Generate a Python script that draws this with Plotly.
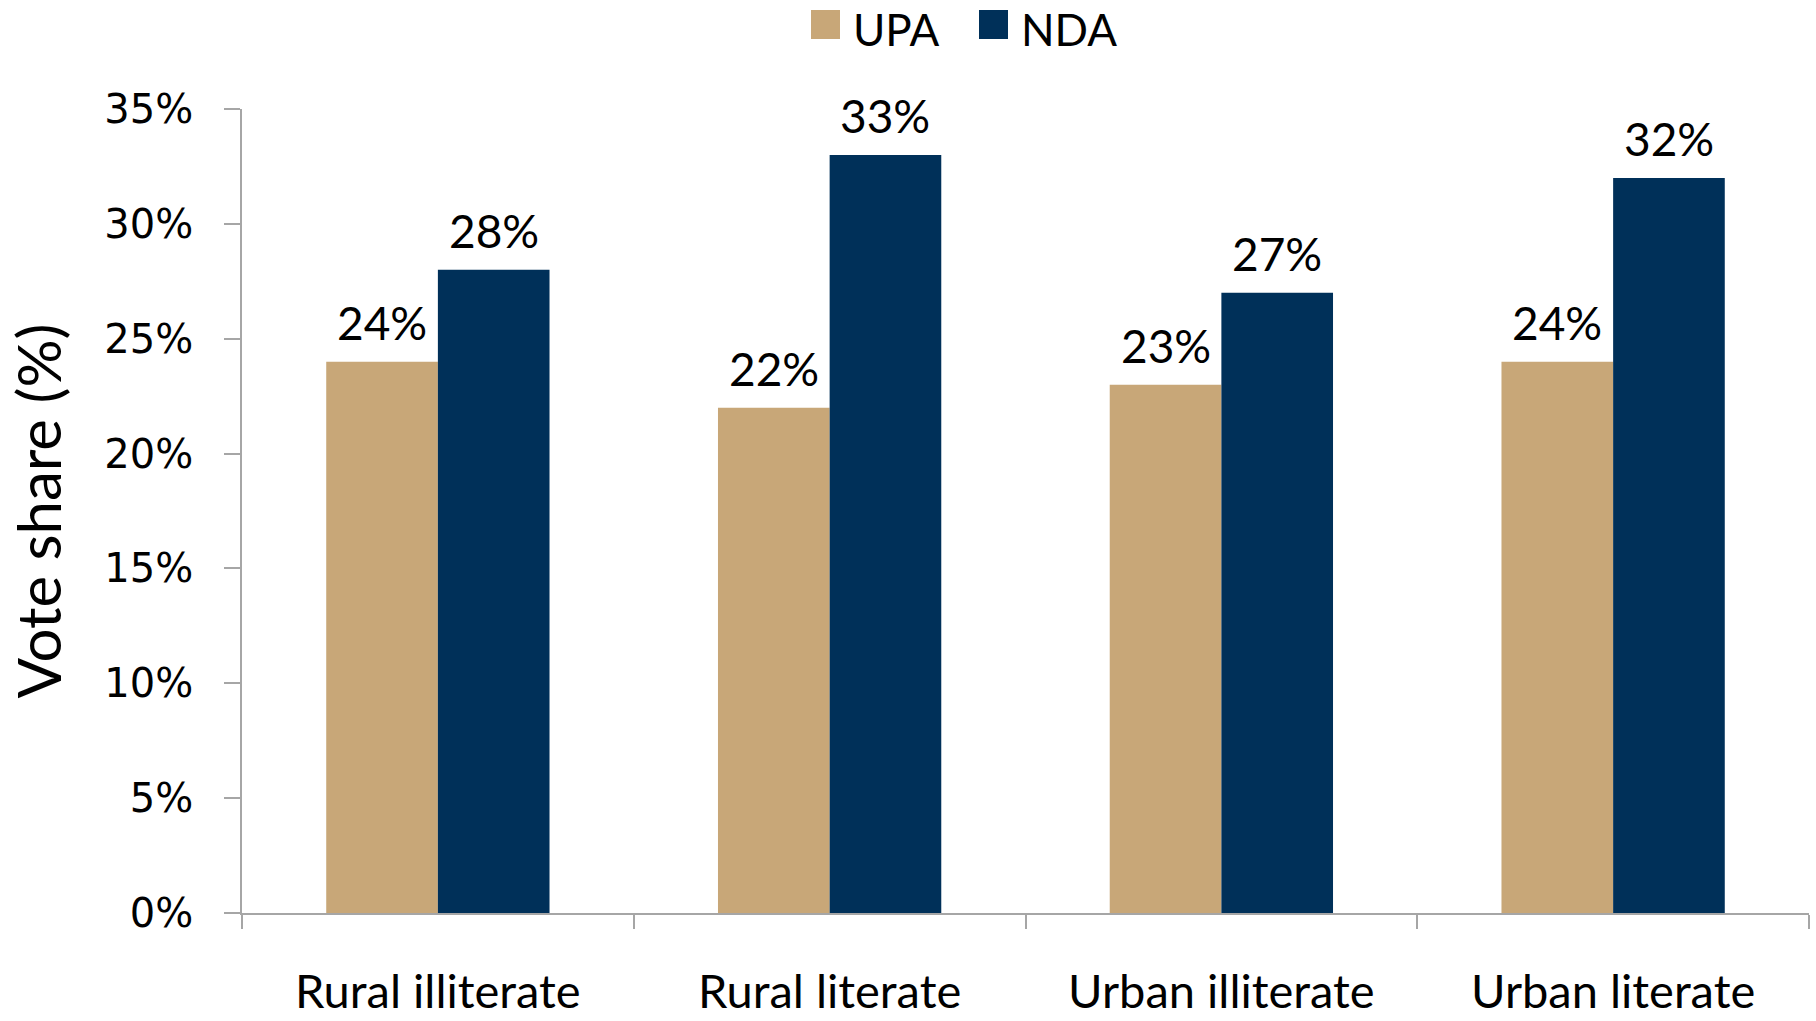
import plotly.graph_objects as go

categories = ["Rural illiterate", "Rural literate", "Urban illiterate", "Urban literate"]
series_names = ["UPA", "NDA"]
upa_values = [24, 22, 23, 24]
nda_values = [28, 33, 27, 32]
colors = ["#C8A778", "#003059"]

# layout geometry
W, H = 1816, 1021
ML, MR, MT, MB = 242, 7, 109, 108
BARGAP = 0.43
PW = W - ML - MR
PH = H - MT - MB

fig = go.Figure()
series = [upa_values, nda_values]
for name, vals, col in zip(series_names, series, colors):
    fig.add_trace(go.Bar(
        x=categories, y=[v / 100 for v in vals], name=name,
        marker=dict(color=col, line=dict(width=0)),
        showlegend=False,
    ))

# value labels above bars
bar_px = PW / len(categories) * (1 - BARGAP) / len(series)
for i, vals in enumerate(series):
    for cat, v in zip(categories, vals):
        fig.add_annotation(
            x=cat, y=v / 100, text=f"{v}%", showarrow=False,
            xanchor="center", yanchor="bottom",
            xshift=(i - (len(series) - 1) / 2) * bar_px, yshift=10,
            font=dict(family="Lato", size=46, color="black"),
        )

# legend drawn as squares + labels at top centre (pixel positions)
def px(x):
    return (x - ML) / PW

def py(y):
    return (H - MB - y) / PH

leg_x = [811, 979]
for i, (name, col) in enumerate(zip(series_names, colors)):
    fig.add_shape(type="rect", xref="paper", yref="paper",
                  x0=px(leg_x[i]), x1=px(leg_x[i] + 29),
                  y0=py(10), y1=py(39),
                  fillcolor=col, line=dict(width=0))
    fig.add_annotation(text=name, xref="paper", yref="paper",
                       x=px(leg_x[i] + 40), y=py(29),
                       xanchor="left", yanchor="middle", showarrow=False,
                       font=dict(family="Lato", size=44, color="black"))

fig.update_layout(
    width=W, height=H,
    margin=dict(l=ML, r=MR, t=MT, b=MB, autoexpand=False),
    paper_bgcolor="white", plot_bgcolor="white",
    barmode="group", bargap=BARGAP, bargroupgap=0,
    font=dict(family="Lato", color="black"),
)
fig.update_yaxes(
    range=[0, 0.35], dtick=0.05, tickformat=".0%",
    showgrid=False, zeroline=False, automargin=False,
    showline=True, linecolor="#A6A6A6", linewidth=1.5,
    ticks="outside", ticklen=16, tickcolor="#A6A6A6", tickwidth=1.5,
    tickfont=dict(family="DejaVu Sans", size=40, color="black"),
    ticklabelstandoff=23,
    title=dict(text="Vote share (%)", font=dict(family="Lato", size=60, color="black"), standoff=23),
)
fig.update_xaxes(
    showgrid=False, showline=True, linecolor="#A6A6A6", linewidth=1.5,
    automargin=False,
    ticks="outside", tickson="boundaries", ticklen=14, tickcolor="#A6A6A6", tickwidth=1.5,
    tickfont=dict(family="Lato", size=47, color="black"),
    ticklabelstandoff=37,
)

fig.write_html("out.html", config={"displayModeBar": False},
               post_script="document.body.style.margin='0';")
